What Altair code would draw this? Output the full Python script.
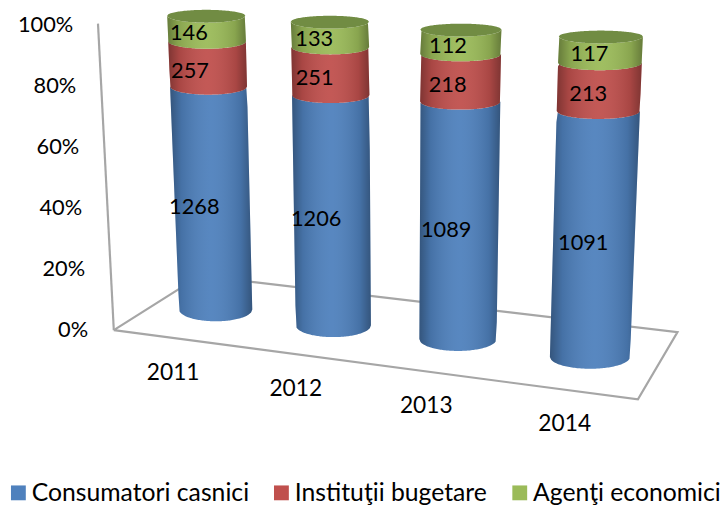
import numpy as np
import pandas as pd
import altair as alt

years = ["2011", "2012", "2013", "2014"]
series = ["Consumatori casnici", "Instituţii bugetare", "Agenţi economici"]
consumatori = [1268, 1206, 1089, 1091]
institutii = [257, 251, 218, 213]
agenti = [146, 133, 112, 117]
colors = ["#4F81BD", "#C0504D", "#9BBB59"]
axis_ticks = [0, 20, 40, 60, 80, 100]

# 3-D projection of the Excel chart: silhouette of each cylinder
top_left = [169, 294, 425, 565]
top_right = [248, 373, 507, 650]
bot_left = [181, 299, 424, 556]
bot_right = [255, 375, 502, 637]
top_y = [13, 19, 27, 34]
bot_y = [310, 326, 340, 358]
TOP_B, BOT_B = 7, 12
label_dx = [-18, -16, -13, -11]
label_dy = [2.5, 1.5, -0.5]

W, H = 720, 500
to_pct = lambda py: (331 - py) / 3.07
x_scale = alt.Scale(domain=[8, 8 + W], nice=False, zero=False)
y_scale = alt.Scale(domain=[to_pct(8 + H), to_pct(8)], nice=False, zero=False)


def frame(i, f):
    xl = bot_left[i] + (top_left[i] - bot_left[i]) * f
    xr = bot_right[i] + (top_right[i] - bot_right[i]) * f
    yc = bot_y[i] + (top_y[i] - bot_y[i]) * f
    b = BOT_B + (TOP_B - BOT_B) * f
    return xl, xr, yc, b


def slices(poly, n=70):
    xs = np.linspace(poly[:, 0].min() + 1e-3, poly[:, 0].max() - 1e-3, n)
    out = []
    for x in xs:
        ys = []
        for (x0, y0), (x1, y1) in zip(poly, np.roll(poly, -1, axis=0)):
            if (x0 - x) * (x1 - x) <= 0 and x0 != x1:
                ys.append(y0 + (y1 - y0) * (x - x0) / (x1 - x0))
        if ys:
            out.append((x, min(ys), max(ys)))
    return out


t = np.linspace(0, np.pi, 41)
rows, caps, labels = [], [], []
for i, yr in enumerate(years):
    vals = [consumatori[i], institutii[i], agenti[i]]
    total = sum(vals)
    acc = 0
    for s, v in enumerate(vals):
        f0, f1 = acc / total, (acc + v) / total
        acc += v
        xl0, xr0, yc0, b0 = frame(i, f0)
        xl1, xr1, yc1, b1 = frame(i, f1)
        lo = np.c_[(xl0 + xr0) / 2 - (xr0 - xl0) / 2 * np.cos(t), yc0 + b0 * np.sin(t)]
        up = np.c_[(xl1 + xr1) / 2 + (xr1 - xl1) / 2 * np.cos(t), yc1 + b1 * np.sin(t)]
        poly = np.vstack([lo, up])
        for x, ya, yb in slices(poly):
            rows.append(dict(x=x, y=to_pct(ya), y2=to_pct(yb), serie=series[s], key=f"{yr}-{s}"))
        fm = (f0 + f1) / 2
        xl, xr, yc, b = frame(i, fm)
        labels.append(
            dict(x=(xl + xr) / 2 + label_dx[i], y=to_pct(yc + b * 0.7 + label_dy[s]), text=str(v))
        )
    xl, xr, yc, b = frame(i, 1)
    ell = np.c_[(xl + xr) / 2 + (xr - xl) / 2 * np.cos(t), yc + b * np.sin(t)]
    ell = np.vstack([ell, np.c_[(xl + xr) / 2 - (xr - xl) / 2 * np.cos(t), yc - b * 0.85 * np.sin(t)]])
    for x, ya, yb in slices(ell):
        caps.append(dict(x=x, y=to_pct(ya), y2=to_pct(yb), key=yr))

df = pd.DataFrame(rows)
df_caps = pd.DataFrame(caps)
df_labels = pd.DataFrame(labels)

# floor and wall outline
lines = pd.DataFrame(
    [
        dict(x=99, y=to_pct(21), k="wall", o=0), dict(x=115, y=to_pct(331), k="wall", o=1),
        dict(x=115, y=to_pct(331), k="floor", o=0), dict(x=645, y=to_pct(401), k="floor", o=1),
        dict(x=685, y=to_pct(333), k="floor", o=2), dict(x=202, y=to_pct(276), k="floor", o=3),
        dict(x=115, y=to_pct(331), k="floor", o=4),
    ]
)
df_years = pd.DataFrame(
    dict(x=[175, 299, 431, 571], y=[to_pct(v) for v in [374, 391, 408, 426]], text=years)
)
# tick labels follow the tilted wall of the 3-D chart
df_ticks = pd.DataFrame(
    dict(
        x=[89 - 0.15 * p for p in axis_ticks],
        y=[to_pct(330.5 - 3.08 * p) for p in axis_ticks],
        text=[f"{p}%" for p in axis_ticks],
    )
)

Y = alt.Y("y:Q", scale=y_scale, axis=None)
Xp = alt.X("x:Q", scale=x_scale, axis=None)

floor = alt.Chart(lines).mark_line(color="#A6A6A6", strokeWidth=2.2).encode(
    x=Xp, y=Y, detail="k:N", order="o:Q"
)
body = alt.Chart(df).mark_area(interpolate="linear").encode(
    x=Xp, y=Y, y2="y2:Q", detail="key:N",
    color=alt.Color(
        "serie:N",
        scale=alt.Scale(domain=series, range=colors),
        legend=alt.Legend(
            title=None, orient="none", legendX=-2, legendY=475, direction="horizontal",
            symbolType="square", symbolSize=225, symbolStrokeWidth=0, symbolOpacity=1,
            labelFont="Lato", labelFontSize=25, labelColor="#000000", labelLimit=300,
            columnPadding=20, gridAlign="none", labelOffset=1, padding=0, columns=3,
        ),
    ),
)
shade = alt.LinearGradient(
    gradient="linear",
    x1=0, x2=1, y1=0, y2=0,
    stops=[
        alt.GradientStop(color="rgba(0,0,0,0.34)", offset=0),
        alt.GradientStop(color="rgba(0,0,0,0.12)", offset=0.14),
        alt.GradientStop(color="rgba(255,255,255,0.05)", offset=0.5),
        alt.GradientStop(color="rgba(0,0,0,0.12)", offset=0.86),
        alt.GradientStop(color="rgba(0,0,0,0.34)", offset=1),
    ],
)
overlay = alt.Chart(df).mark_area(color=shade).encode(x=Xp, y=Y, y2="y2:Q", detail="key:N")
cap = alt.Chart(df_caps).mark_area(color="#718C43").encode(x=Xp, y=Y, y2="y2:Q", detail="key:N")
value_text = alt.Chart(df_labels).mark_text(font="Lato", fontSize=22, color="#000000").encode(
    x=Xp, y=Y, text="text:N"
)
year_text = alt.Chart(df_years).mark_text(font="Lato", fontSize=23, color="#000000").encode(
    x=Xp, y=Y, text="text:N"
)
tick_text = alt.Chart(df_ticks).mark_text(
    font="Lato", fontSize=22, color="#000000", align="right"
).encode(x=Xp, y=Y, text="text:N")

chart = (
    alt.layer(floor, body, overlay, cap, value_text, year_text, tick_text)
    .properties(
        width=W, height=H, padding=0, background="#FFFFFF",
        autosize=alt.AutoSizeParams(type="none"),
    )
    .configure_view(stroke=None)
)
chart.save("out.html", embed_options={"renderer": "svg", "actions": False})
